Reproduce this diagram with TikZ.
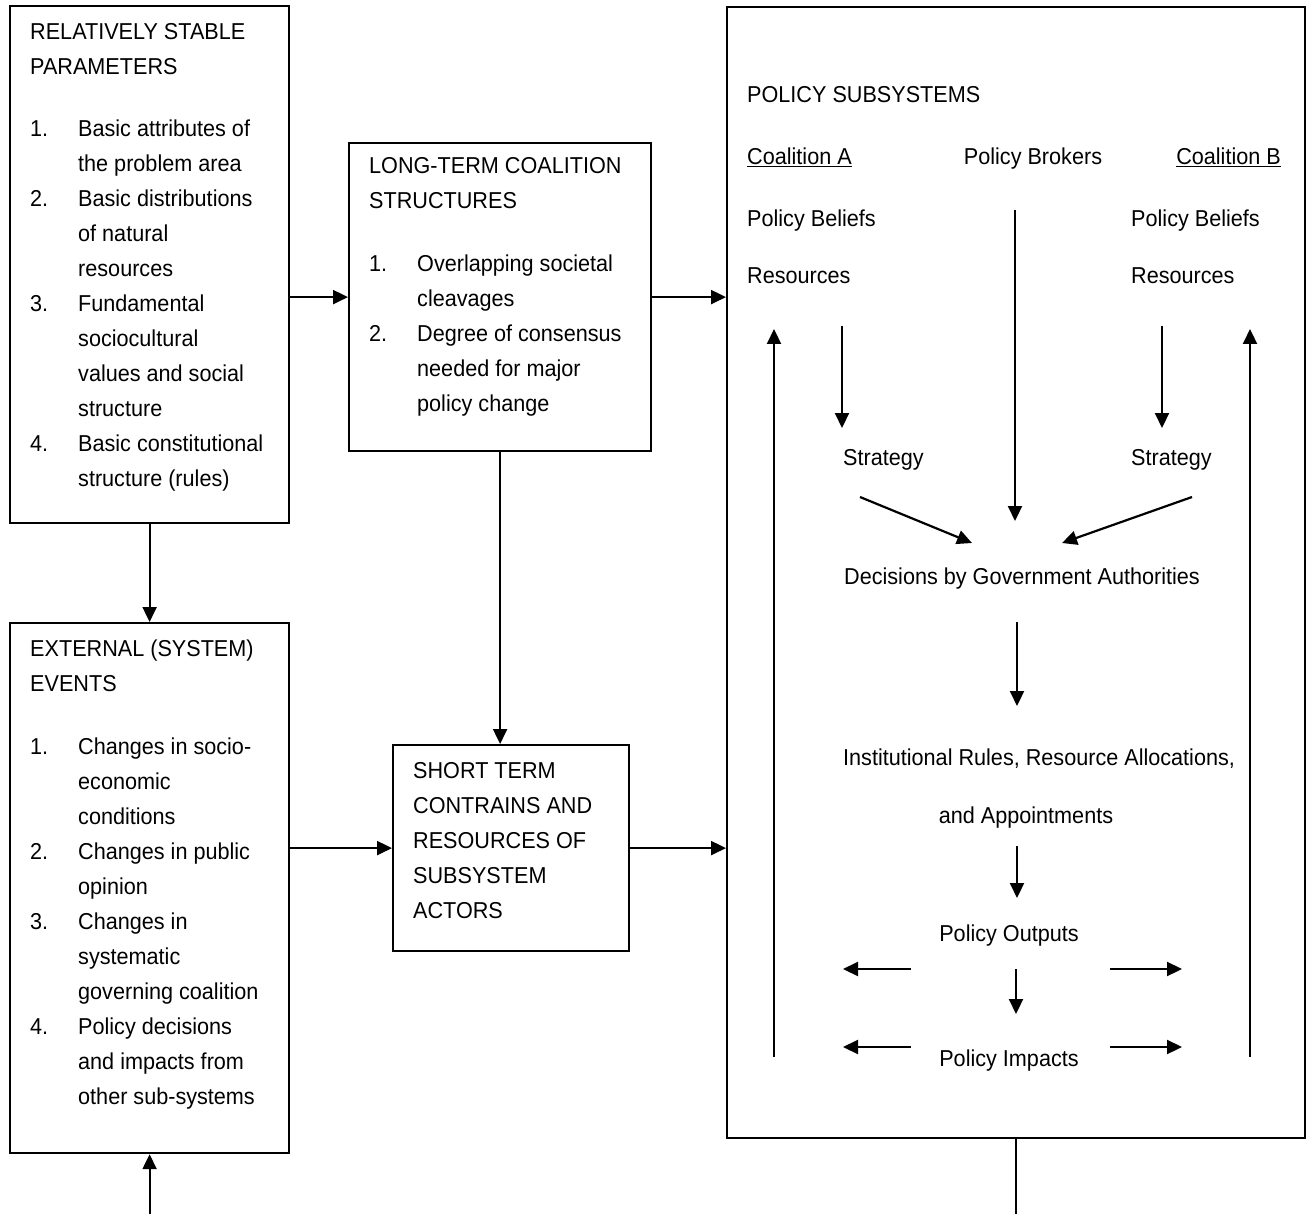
\documentclass[tikz,border=0pt]{standalone}
\usepackage{fontspec}
\setmainfont{Liberation Sans}[FakeStretch=0.94]
\usetikzlibrary{arrows.meta}

\newcommand{\hd}[1]{\multicolumn{2}{@{}l@{}}{#1}}

\tikzset{
  box/.style={draw, line width=2.2pt, inner sep=0pt, anchor=north west},
  arr/.style={line width=2.2pt, -{Triangle[length=15pt,width=14pt]}},
  lbl/.style={inner sep=0pt, anchor=base west},
  mid/.style={inner sep=0pt, anchor=base},
  lst/.style={inner sep=0pt, anchor=base west, align=left}
}

\begin{document}
\begin{tikzpicture}[x=1pt, y=-1pt, font=\fontsize{23pt}{35pt}\selectfont]
   \useasboundingbox (0,0) rectangle (1309,1214);
   % boxes
   \node[box, minimum width=279pt, minimum height=517pt] (b1) at (9,5) {};
   \node[box, minimum width=302pt, minimum height=308pt] (b2) at (348,142) {};
   \node[box, minimum width=279pt, minimum height=530pt] (b3) at (9,622) {};
   \node[box, minimum width=236pt, minimum height=206pt] (b4) at (392,744) {};
   \node[box, minimum width=578pt, minimum height=1131pt] (b5) at (726,6) {};
   % box texts
   \node[lst] (t1) at (30,40) {\begin{tabular}[t]{@{}p{48pt}@{}l@{}}
      \hd{RELATIVELY STABLE}\\
      \hd{PARAMETERS}\\[27pt]
      1. & Basic attributes of\\
         & the problem area\\
      2. & Basic distributions\\
         & of natural\\
         & resources\\
      3. & Fundamental\\
         & sociocultural\\
         & values and social\\
         & structure\\
      4. & Basic constitutional\\
         & structure (rules)
   \end{tabular}};
   \node[lst] (t2) at (369,174) {\begin{tabular}[t]{@{}p{48pt}@{}l@{}}
      \hd{LONG-TERM COALITION}\\
      \hd{STRUCTURES}\\[28pt]
      1. & Overlapping societal\\
         & cleavages\\
      2. & Degree of consensus\\
         & needed for major\\
         & policy change
   \end{tabular}};
   \node[lst] (t3) at (30,656) {\begin{tabular}[t]{@{}p{48pt}@{}l@{}}
      \hd{EXTERNAL (SYSTEM)}\\
      \hd{EVENTS}\\[28pt]
      1. & Changes in socio-\\
         & economic\\
         & conditions\\
      2. & Changes in public\\
         & opinion\\
      3. & Changes in\\
         & systematic\\
         & governing coalition\\
      4. & Policy decisions\\
         & and impacts from\\
         & other sub-systems
   \end{tabular}};
   \node[lst] (t4) at (413,778) {\begin{tabular}[t]{@{}l@{}}
      SHORT TERM\\
      CONTRAINS AND\\
      RESOURCES OF\\
      SUBSYSTEM\\
      ACTORS
   \end{tabular}};
   % policy subsystem texts
   \node[lbl] (ps) at (747,103) {POLICY SUBSYSTEMS};
   \node[lbl] (coA) at (747,165) {\underline{Coalition A}};
   \node[mid] (brk) at (1033,165) {Policy Brokers};
   \node[inner sep=0pt, anchor=base east] (coB) at (1281,165) {\underline{Coalition B}};
   \node[lbl] (beA) at (747,227) {Policy Beliefs};
   \node[lbl] (beB) at (1131,227) {Policy Beliefs};
   \node[lbl] (reA) at (747,284) {Resources};
   \node[lbl] (reB) at (1131,284) {Resources};
   \node[lbl] (stA) at (843,465) {Strategy};
   \node[lbl] (stB) at (1131,465) {Strategy};
   \node[mid] (dec) at (1022,584) {Decisions by Government Authorities};
   \node[lbl] (inst) at (843,765) {Institutional Rules, Resource Allocations,};
   \node[mid] (app) at (1026,823) {and Appointments};
   \node[mid] (out) at (1009,941) {Policy Outputs};
   \node[mid] (imp) at (1009,1066) {Policy Impacts};
   % arrow ends inside the subsystem
   \coordinate (fbA0) at (774,1057);  \coordinate (fbA1) at (774,329);
   \coordinate (fbB0) at (1250,1057); \coordinate (fbB1) at (1250,329);
   \coordinate (dA0) at (842,326);    \coordinate (dA1) at (842,428);
   \coordinate (dB0) at (1162,326);   \coordinate (dB1) at (1162,428);
   \coordinate (br0) at (1015,210);   \coordinate (br1) at (1015,521);
   \coordinate (sA0) at (860,497);    \coordinate (sA1) at (972,543);
   \coordinate (sB0) at (1192,497);   \coordinate (sB1) at (1062,543);
   \coordinate (de0) at (1017,622);   \coordinate (de1) at (1017,706);
   \coordinate (ap0) at (1017,846);   \coordinate (ap1) at (1017,898);
   \coordinate (ou0) at (1016,969);   \coordinate (ou1) at (1016,1014);
   \coordinate (oL0) at (911,969);    \coordinate (oL1) at (843,969);
   \coordinate (iL0) at (911,1047);   \coordinate (iL1) at (843,1047);
   \coordinate (oR0) at (1110,969);   \coordinate (oR1) at (1182,969);
   \coordinate (iR0) at (1110,1047);  \coordinate (iR1) at (1182,1047);
   \coordinate (bottom) at (0,1216);
   % connectors between boxes
   \draw[arr] (b1.east |- b2.west) -- (b2.west);
   \draw[arr] (b2.east) -- (b5.west |- b2.east);
   \draw[arr] (b1.south) -- (b3.north);
   \draw[arr] (b2.south) -- (b4.north -| b2.south);
   \draw[arr] (b3.east |- b4.west) -- (b4.west);
   \draw[arr] (b4.east) -- (b5.west |- b4.east);
   \draw[line width=2.2pt] (b5.south) -- (b5.south |- bottom);
   \draw[arr] (b3.south |- bottom) -- (b3.south);
   % connectors inside
   \draw[arr] (fbA0) -- (fbA1);
   \draw[arr] (fbB0) -- (fbB1);
   \draw[arr] (dA0) -- (dA1);
   \draw[arr] (dB0) -- (dB1);
   \draw[arr] (br0) -- (br1);
   \draw[arr] (sA0) -- (sA1);
   \draw[arr] (sB0) -- (sB1);
   \draw[arr] (de0) -- (de1);
   \draw[arr] (ap0) -- (ap1);
   \draw[arr] (ou0) -- (ou1);
   \draw[arr] (oL0) -- (oL1);
   \draw[arr] (iL0) -- (iL1);
   \draw[arr] (oR0) -- (oR1);
   \draw[arr] (iR0) -- (iR1);
\end{tikzpicture}
\end{document}
